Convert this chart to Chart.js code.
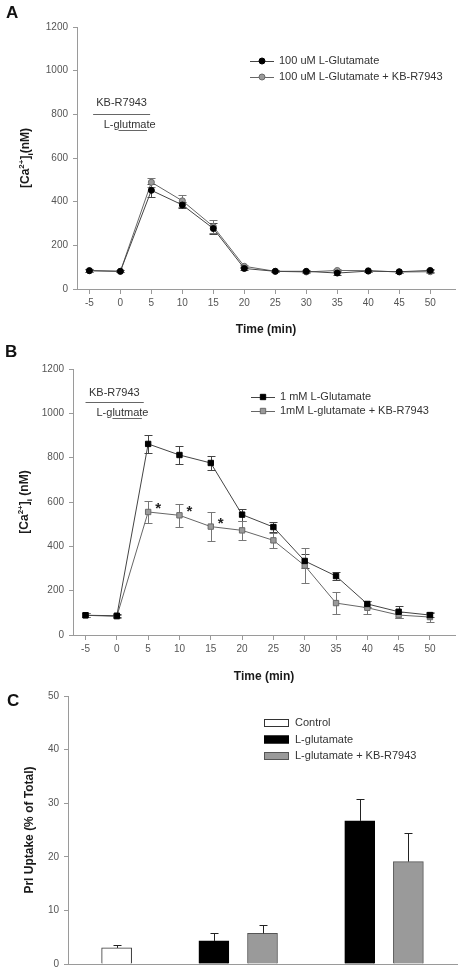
<!DOCTYPE html>
<html>
<head>
<meta charset="utf-8">
<script src="https://cdn.jsdelivr.net/npm/chart.js@4.4.1/dist/chart.umd.min.js"></script>
<style>
  body { margin: 0; background: #fff; width: 463px; height: 975px; position: relative; overflow: hidden;
         font-family: "Liberation Sans", Arial, sans-serif; }
  canvas { position: absolute; left: 0; }
  .ttl { position: absolute; color: #1a1a1a; font-weight: bold; font-size: 12px; white-space: nowrap;
         transform: translate(-50%, -50%); }
  .rot { transform: translate(-50%, -50%) rotate(-90deg); }
  .panel { position: absolute; font-weight: bold; font-size: 17px; color: #111; }
  sup, sub { font-size: 8px; }
</style>
</head>
<body>
<canvas id="chartA" width="463" height="340" style="top:0"></canvas>
<canvas id="chartB" width="463" height="345" style="top:340px"></canvas>
<canvas id="chartC" width="463" height="290" style="top:685px"></canvas>

<div class="panel" style="left:6px;top:3px">A</div>
<div class="panel" style="left:5px;top:342px">B</div>
<div class="panel" style="left:7px;top:691px">C</div>

<div class="ttl rot" style="left:26px;top:158px">[Ca<sup>2+</sup>]<sub>i</sub>(nM)</div>
<div class="ttl" style="left:266px;top:329px">Time (min)</div>
<div class="ttl rot" style="left:25px;top:502px">[Ca<sup>2+</sup>]<sub>i</sub> (nM)</div>
<div class="ttl" style="left:264px;top:676px">Time (min)</div>
<div class="ttl rot" style="left:29px;top:830px">Prl Uptake (% of Total)</div>

<script>
// time points (min)
const times = [-5, 0, 5, 10, 15, 20, 25, 30, 35, 40, 45, 50];
const timeTicks = [-5, 0, 5, 10, 15, 20, 25, 30, 35, 40, 45, 50];
const caTicks = [0, 200, 400, 600, 800, 1000, 1200];

// panel A: 100 uM
const glu100 = [84, 81, 452, 385, 277, 94, 81, 81, 73, 82, 79, 85];
const glu100Err = [6, 5, 30, 12, 25, 8, 4, 5, 8, 5, 5, 5];
const glu100Kb = [84, 81, 489, 404, 286, 104, 81, 78, 85, 84, 78, 79];
const glu100KbErr = [6, 5, 20, 27, 30, 8, 4, 5, 6, 5, 5, 6];

// panel B: 1 mM
const glu1m = [89, 87, 862, 812, 776, 543, 487, 334, 266, 140, 105, 90];
const glu1mErr = [8, 8, 39, 42, 32, 27, 24, 33, 18, 12, 27, 9];
const glu1mKb = [89, 84, 555, 540, 489, 472, 427, 313, 144, 123, 90, 81];
const glu1mKbErr = [8, 8, 50, 53, 66, 42, 35, 80, 48, 30, 15, 21];
const sigTimes = [5, 10, 15];

// panel C: bars (slot index on the x axis)
const uptakeSlots = ['', 'c', '', 'g1', 'k1', '', 'g2', 'k2', ''];
const controlVals = [null, 3.0, null, null, null, null, null, null, null];
const controlErr = [null, 0.5, null, null, null, null, null, null, null];
const gluVals = [null, null, null, 4.3, null, null, 26.7, null, null];
const gluErr = [null, null, null, 1.4, null, null, 4.1, null, null];
const gluKbVals = [null, null, null, null, 5.7, null, null, 19.1, null];
const gluKbErr = [null, null, null, null, 1.6, null, null, 5.3, null];
const uptakeTicks = [0, 10, 20, 30, 40, 50];

const FONT = '"Liberation Sans", Arial, sans-serif';
const AXIS = '#9a9a9a';
const TICK_TXT = '#555';

const errorBars = {
  id: 'errorBars',
  beforeDatasetsDraw(chart, args, opts) {
    if (opts.after) return;
    drawErrors(chart, opts);
  },
  afterDatasetsDraw(chart, args, opts) {
    if (!opts.after) return;
    drawErrors(chart, opts);
  }
};

function drawErrors(chart, opts) {
  const ctx = chart.ctx;
  const ys = chart.scales.y;
  chart.data.datasets.forEach((ds, i) => {
    if (!ds.errors) return;
    const meta = chart.getDatasetMeta(i);
    ctx.save();
    ctx.strokeStyle = ds.errorColor || '#555';
    ctx.lineWidth = 1;
    meta.data.forEach((el, j) => {
      const v = ds.data[j];
      const e = ds.errors[j];
      if (v == null || e == null) return;
      const val = typeof v === 'object' ? v.y : v;
      const x = Math.round(el.x) + 0.5;
      const yTop = Math.round(ys.getPixelForValue(val + e)) + 0.5;
      const yBot = opts.upOnly ? ys.getPixelForValue(val) : Math.round(ys.getPixelForValue(val - e)) + 0.5;
      const cap = opts.cap || 4;
      ctx.beginPath();
      ctx.moveTo(x, yTop); ctx.lineTo(x, yBot);
      ctx.moveTo(x - cap, yTop); ctx.lineTo(x + cap, yTop);
      if (!opts.upOnly) { ctx.moveTo(x - cap, yBot); ctx.lineTo(x + cap, yBot); }
      ctx.stroke();
    });
    ctx.restore();
  });
}

function drawMarker(ctx, style, r, x, y) {
  ctx.beginPath();
  if (style === 'rect') {
    const s = r * Math.SQRT1_2;
    ctx.rect(x - s, y - s, 2 * s, 2 * s);
  } else {
    ctx.arc(x, y, r, 0, Math.PI * 2);
  }
  ctx.fill();
  ctx.stroke();
}

// treatment bars, asterisks and the legend drawn on top
const notes = {
  id: 'notes',
  afterDraw(chart, args, opts) {
    const ctx = chart.ctx;
    const xs = chart.scales.x, ys = chart.scales.y;
    ctx.save();
    ctx.font = '11px ' + FONT;
    ctx.fillStyle = '#333';
    ctx.textBaseline = 'middle';
    (opts.spans || []).forEach(s => {
      ctx.textAlign = 'center';
      ctx.fillText(s.text, xs.getPixelForValue(s.textAt[0]), ys.getPixelForValue(s.textAt[1]));
      const yl = Math.round(ys.getPixelForValue(s.lineY)) + 0.5;
      ctx.strokeStyle = '#666';
      ctx.lineWidth = 1;
      ctx.beginPath();
      ctx.moveTo(xs.getPixelForValue(s.from), yl);
      ctx.lineTo(xs.getPixelForValue(s.to), yl);
      ctx.stroke();
    });
    if (opts.stars) {
      const meta = chart.getDatasetMeta(opts.stars.dataset);
      ctx.font = 'bold 15px ' + FONT;
      ctx.fillStyle = '#222';
      ctx.textAlign = 'center';
      opts.stars.at.forEach(t => {
        const el = meta.data[times.indexOf(t)];
        ctx.fillText('*', el.x + 10, el.y - 3);
      });
    }
    if (opts.legend) {
      const lg = opts.legend;
      ctx.font = '11px ' + FONT;
      ctx.textAlign = 'left';
      chart.data.datasets.forEach((ds, i) => {
        const y = lg.y + i * lg.gap;
        if (lg.bars) {
          ctx.fillStyle = ds.backgroundColor;
          ctx.strokeStyle = ds.borderColor;
          ctx.lineWidth = 1;
          ctx.fillRect(lg.x, y - 4, 25, 8);
          ctx.strokeRect(lg.x + 0.5, y - 3.5, 24, 7);
        } else {
          ctx.strokeStyle = ds.borderColor;
          ctx.lineWidth = 1;
          ctx.beginPath();
          ctx.moveTo(lg.x, Math.round(y) + 0.5);
          ctx.lineTo(lg.x + 24, Math.round(y) + 0.5);
          ctx.stroke();
          ctx.fillStyle = ds.pointBackgroundColor;
          ctx.strokeStyle = ds.pointBorderColor;
          drawMarker(ctx, ds.pointStyle, ds.pointRadius, lg.x + 12, y);
        }
        ctx.fillStyle = '#333';
        ctx.fillText(ds.label, lg.x + lg.textGap, y);
      });
    }
    ctx.restore();
  }
};

const plainTick = v => String(v);

function timeAxes(yWidth) {
  return {
    x: {
      type: 'linear', min: -7, max: 54,
      afterBuildTicks: s => { s.ticks = timeTicks.map(v => ({ value: v })); },
      afterFit: s => { s.height = 48; },
      border: { color: AXIS, width: 1 },
      grid: { drawOnChartArea: false, color: AXIS, tickLength: 5 },
      ticks: { color: TICK_TXT, font: { family: FONT, size: 10 }, padding: 3, maxRotation: 0, callback: plainTick }
    },
    y: {
      min: 0, max: 1200,
      afterBuildTicks: s => { s.ticks = caTicks.map(v => ({ value: v })); },
      afterFit: s => { s.width = yWidth; },
      border: { color: AXIS, width: 1 },
      grid: { drawOnChartArea: false, color: AXIS, tickLength: 4 },
      ticks: { color: TICK_TXT, font: { family: FONT, size: 10 }, padding: 5, callback: plainTick }
    }
  };
}

function lineSet(label, data, errors, filled, style) {
  return {
    label,
    data: times.map((t, i) => ({ x: t, y: data[i] })),
    errors,
    errorColor: filled ? '#444' : '#777',
    borderColor: filled ? '#444' : '#666',
    borderWidth: 1,
    pointStyle: style,
    pointRadius: style === 'rect' ? 3.8 : 3,
    pointBackgroundColor: filled ? '#000' : '#9a9a9a',
    pointBorderColor: filled ? '#000' : '#6a6a6a',
    pointBorderWidth: 1,
    tension: 0
  };
}

const common = {
  responsive: false,
  animation: false,
  events: [],
  plugins: { legend: { display: false }, tooltip: { enabled: false } }
};

new Chart(document.getElementById('chartA'), {
  type: 'line',
  data: {
    datasets: [
      lineSet('100 uM L-Glutamate', glu100, glu100Err, true, 'circle'),
      lineSet('100 uM L-Glutamate + KB-R7943', glu100Kb, glu100KbErr, false, 'circle')
    ]
  },
  options: {
    ...common,
    layout: { padding: { top: 27, right: 8, bottom: 3, left: 0 } },
    scales: timeAxes(77),
    plugins: {
      ...common.plugins,
      errorBars: { cap: 4 },
      notes: {
        spans: [
          { text: 'KB-R7943', textAt: [0.2, 852], lineY: 801, from: -4.4, to: 4.8 },
          { text: 'L-glutmate', textAt: [1.5, 751], lineY: 728, from: -0.3, to: 4.3 }
        ],
        legend: { x: 250, y: 61, gap: 16, textGap: 29 }
      }
    }
  },
  plugins: [errorBars, notes]
});

new Chart(document.getElementById('chartB'), {
  type: 'line',
  data: {
    datasets: [
      lineSet('1 mM L-Glutamate', glu1m, glu1mErr, true, 'rect'),
      lineSet('1mM L-glutamate + KB-R7943', glu1mKb, glu1mKbErr, false, 'rect')
    ]
  },
  options: {
    ...common,
    layout: { padding: { top: 29, right: 8, bottom: 2, left: 0 } },
    scales: timeAxes(73),
    plugins: {
      ...common.plugins,
      errorBars: { cap: 4 },
      notes: {
        spans: [
          { text: 'KB-R7943', textAt: [-0.4, 1092], lineY: 1051, from: -5, to: 4.3 },
          { text: 'L-glutmate', textAt: [0.9, 1002], lineY: 979, from: -0.7, to: 4.0 }
        ],
        stars: { dataset: 1, at: sigTimes },
        legend: { x: 251, y: 57, gap: 14, textGap: 29 }
      }
    }
  },
  plugins: [errorBars, notes]
});

function barSet(label, data, errors, fill, border) {
  return {
    label, data, errors,
    errorColor: '#222',
    backgroundColor: fill,
    borderColor: border,
    borderWidth: 1,
    barThickness: 30,
    grouped: false
  };
}

new Chart(document.getElementById('chartC'), {
  type: 'bar',
  data: {
    labels: uptakeSlots,
    datasets: [
      barSet('Control', controlVals, controlErr, '#ffffff', '#333'),
      barSet('L-glutamate', gluVals, gluErr, '#000000', '#000'),
      barSet('L-glutamate + KB-R7943', gluKbVals, gluKbErr, '#9a9a9a', '#555')
    ]
  },
  options: {
    ...common,
    layout: { padding: { top: 9, right: 6, bottom: 10, left: 0 } },
    scales: {
      x: {
        offset: false,
        afterFit: s => { s.height = 0; },
        border: { color: AXIS, width: 1 },
        grid: { display: false },
        ticks: { display: false }
      },
      y: {
        min: 0, max: 50,
        afterBuildTicks: s => { s.ticks = uptakeTicks.map(v => ({ value: v })); },
        afterFit: s => { s.width = 68; },
        border: { color: AXIS, width: 1 },
        grid: { drawOnChartArea: false, color: AXIS, tickLength: 4 },
        ticks: { color: TICK_TXT, font: { family: FONT, size: 10 }, padding: 5, callback: plainTick }
      }
    },
    plugins: {
      ...common.plugins,
      errorBars: { cap: 4, upOnly: true, after: true },
      notes: { legend: { x: 264, y: 38, gap: 16.5, textGap: 31, bars: true } }
    }
  },
  plugins: [errorBars, notes]
});
</script>
</body>
</html>
